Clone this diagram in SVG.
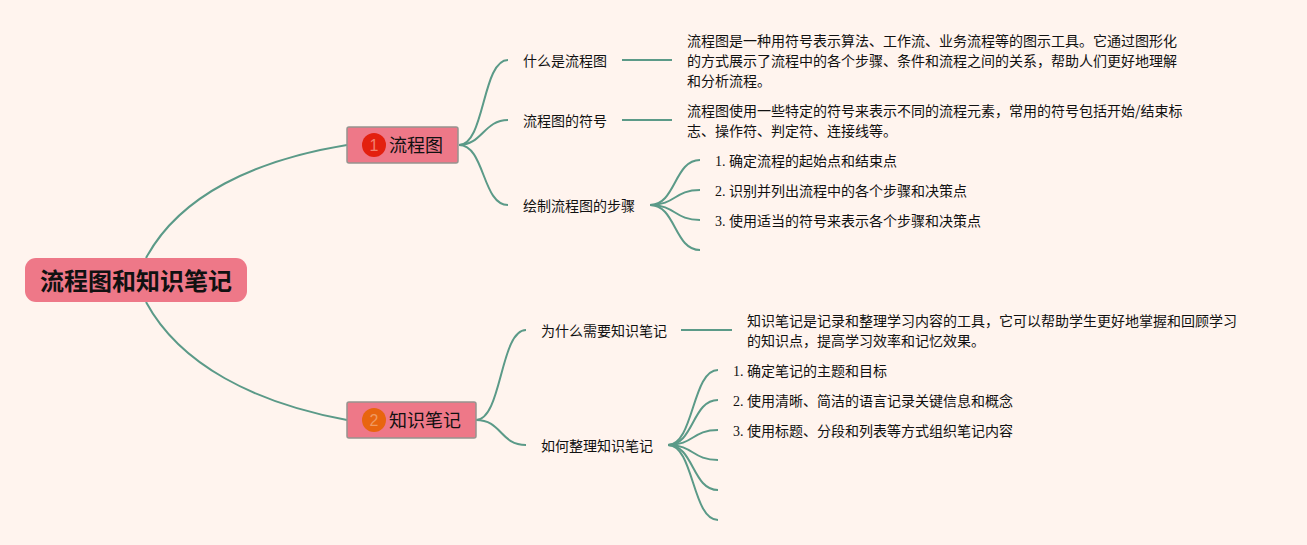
<svg xmlns="http://www.w3.org/2000/svg" width="1307" height="545" viewBox="0 0 1307 545">
<style>
text{font-family:"Liberation Serif","Noto Sans CJK SC",serif;fill:#111;font-size:14px}
.c{fill:none;stroke:#5b9a88;stroke-width:2}
.b{fill:#ee7888;stroke:#97938f;stroke-width:1.5}
.t{font-family:"Noto Sans CJK SC",sans-serif;font-size:18px}
.n{font-family:"Noto Sans CJK SC",sans-serif;font-size:14px}
</style>
<rect width="1307" height="545" fill="#fff4ee"/>
<g id="connectors">
<path class="c" d="M146 258C180 195 255 160 347 145"/>
<path class="c" d="M146 302C180 365 255 403 347 420"/>
<path class="c" d="M459 145C485 145 482 60 508 60"/>
<path class="c" d="M459 145C482 145 484 120 508 120"/>
<path class="c" d="M459 145C485 145 482 205 508 205"/>
<path class="c" d="M622 60H672"/>
<path class="c" d="M622 120H672"/>
<path class="c" d="M650 205C676 205 674 160 700 160"/>
<path class="c" d="M650 205C676 205 674 190 700 190"/>
<path class="c" d="M650 205C676 205 674 220 700 220"/>
<path class="c" d="M650 205C676 205 674 250 700 250"/>
<path class="c" d="M476 420C502 420 500 330 526 330"/>
<path class="c" d="M476 420C502 420 500 445 526 445"/>
<path class="c" d="M681 330H732"/>
<path class="c" d="M668 445C694 445 692 370 718 370"/>
<path class="c" d="M668 445C694 445 692 400 718 400"/>
<path class="c" d="M668 445C694 445 692 430 718 430"/>
<path class="c" d="M668 445C694 445 692 460 718 460"/>
<path class="c" d="M668 445C694 445 692 490 718 490"/>
<path class="c" d="M668 445C694 445 692 520 718 520"/>
</g>
<g id="root"><rect x="25" y="258" width="222" height="44" rx="11" fill="#ee7888"/><text x="136" y="290" text-anchor="middle" style="font-family:'Noto Sans CJK SC',sans-serif;font-size:24px;font-weight:700">流程图和知识笔记</text></g>
<g id="topic1"><rect class="b" x="347" y="127" width="111" height="36" rx="2"/><circle cx="374" cy="145" r="12" fill="#e3200f"/><text x="374" y="151" text-anchor="middle" style="font-family:'Liberation Sans',sans-serif;font-size:16px;fill:#f2806f">1</text><text class="t" x="389" y="152">流程图</text></g>
<g id="topic2"><rect class="b" x="347" y="402" width="129" height="36" rx="2"/><circle cx="374" cy="420" r="12" fill="#e8650f"/><text x="374" y="426" text-anchor="middle" style="font-family:'Liberation Sans',sans-serif;font-size:16px;fill:#f09a60">2</text><text class="t" x="389" y="427">知识笔记</text></g>
<g id="n1"><text class="n" x="523" y="66">什么是流程图</text></g>
<g id="n2"><text class="n" x="523" y="126">流程图的符号</text></g>
<g id="n3"><text class="n" x="523" y="211">绘制流程图的步骤</text></g>
<g id="n4"><text class="n" x="541" y="336">为什么需要知识笔记</text></g>
<g id="n5"><text class="n" x="541" y="451">如何整理知识笔记</text></g>
<g id="d1"><text class="n" x="687" y="46">流程图是一种用符号表示算法、工作流、业务流程等的图示工具。它通过图形化</text><text class="n" x="687" y="66">的方式展示了流程中的各个步骤、条件和流程之间的关系，帮助人们更好地理解</text><text class="n" x="687" y="86">和分析流程。</text></g>
<g id="d2"><text class="n" x="687" y="116">流程图使用一些特定的符号来表示不同的流程元素，常用的符号包括开始/结束标</text><text class="n" x="687" y="136">志、操作符、判定符、连接线等。</text></g>
<g id="d3"><text class="n" x="747" y="326">知识笔记是记录和整理学习内容的工具，它可以帮助学生更好地掌握和回顾学习</text><text class="n" x="747" y="346">的知识点，提高学习效率和记忆效果。</text></g>
<g id="s1"><text x="715" y="166">1. <tspan class="n">确定流程的起始点和结束点</tspan></text></g>
<g id="s2"><text x="715" y="196">2. <tspan class="n">识别并列出流程中的各个步骤和决策点</tspan></text></g>
<g id="s3"><text x="715" y="226">3. <tspan class="n">使用适当的符号来表示各个步骤和决策点</tspan></text></g>
<g id="s4"><text x="733" y="376">1. <tspan class="n">确定笔记的主题和目标</tspan></text></g>
<g id="s5"><text x="733" y="406">2. <tspan class="n">使用清晰、简洁的语言记录关键信息和概念</tspan></text></g>
<g id="s6"><text x="733" y="436">3. <tspan class="n">使用标题、分段和列表等方式组织笔记内容</tspan></text></g>
</svg>
